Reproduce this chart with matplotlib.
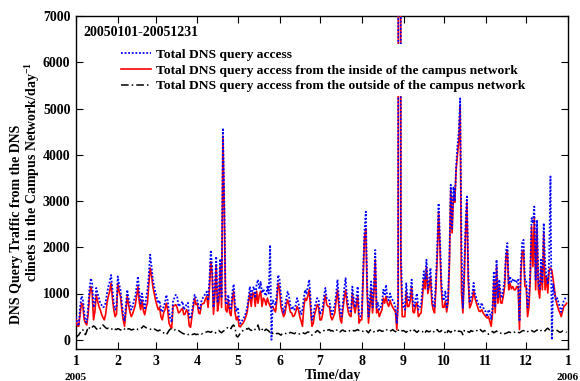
import numpy as np
import matplotlib
matplotlib.use("Agg")
import matplotlib.pyplot as plt

plt.rcParams['font.family'] = ['Liberation Serif', 'DejaVu Serif']
plt.rcParams['font.weight'] = 'bold'
plt.rcParams['mathtext.fontset'] = 'custom'
plt.rcParams['mathtext.rm'] = 'Liberation Serif:bold'
plt.rcParams['mathtext.bf'] = 'Liberation Serif:bold'
plt.rcParams['mathtext.it'] = 'Liberation Serif:bold:italic'

# ---------------- data (daily, 2005-01-01 .. 2005-12-31) ----------------
total_access = [
    # Jan
    500, 350, 300, 700, 940, 900, 600, 400, 380, 700, 1100, 1330, 1220, 700, 800, 1120, 1000, 900, 790, 750,
    700, 720, 800, 1000, 1150, 1250, 1400, 1100, 790, 650, 700,
    # Feb
    1370, 1200, 1080, 800, 550, 400, 750, 1080, 900, 780, 650, 720, 850, 940, 1150, 1370, 1000, 780, 1000, 800,
    650, 900, 1080, 1400, 1840, 1600, 1300, 1150,
    # Mar
    1010, 900, 790, 850, 650, 600, 720, 800, 970, 850, 600, 450, 380, 860, 900, 970, 950, 720, 750, 780,
    830, 650, 700, 760, 800, 500, 450, 600, 800, 970, 900,
    # Apr
    850, 700, 650, 830, 900, 940, 1000, 1040, 850, 1300, 1940, 1580, 700, 1100, 1800, 800, 1000, 1750, 900, 4580,
    3000, 800, 760, 970, 700, 650, 1040, 1200, 750, 610,
    # May
    700, 450, 350, 400, 450, 500, 580, 700, 900, 1150, 900, 1100, 1150, 900, 1200, 1300, 1100, 1250, 1010, 1100,
    1000, 950, 1150, 1000, 2050, 0, 850, 800, 750, 1000, 1400,
    # Jun
    1300, 1000, 750, 580, 700, 900, 1040, 950, 750, 650, 700, 650, 750, 900, 800, 650, 550, 650, 900, 1080,
    1000, 1150, 1300, 900, 430, 500, 700, 800, 900, 850,
    # Jul
    550, 600, 700, 950, 1120, 900, 860, 850, 650, 550, 650, 750, 1000, 1300, 900, 600, 500, 800, 1100, 1330,
    950, 750, 650, 580, 1150, 900, 700, 900, 1150, 550, 500,
    # Aug
    600, 1500, 2340, 2770, 1200, 500, 900, 1260, 700, 1200, 1940, 700, 800, 650, 700, 800, 1080, 950, 1190, 900,
    850, 1000, 900, 850, 800, 700, 350, 900, 60000, 1940, 900,
    # Sep
    700, 650, 1220, 900, 850, 1000, 1300, 800, 700, 900, 1000, 650, 700, 750, 1100, 1480, 1300, 1730, 1100, 1300,
    1550, 1000, 750, 700, 1300, 2000, 2950, 2200, 1300, 900,
    # Oct
    850, 1060, 700, 900, 1800, 3350, 2400, 3310, 3000, 3740, 4200, 4500, 5220, 2010, 690, 1500, 2500, 3130, 1500, 800,
    900, 1000, 1230, 1000, 900, 800, 750, 700, 800, 700, 650,
    # Nov
    600, 500, 650, 600, 450, 700, 1480, 700, 1730, 900, 1300, 1000, 900, 1100, 1300, 1900, 2090, 1200, 1370, 1250,
    1300, 1250, 1300, 1250, 1300, 400, 1600, 2090, 2160, 1300,
    # Dec
    1300, 700, 900, 1500, 2630, 2520, 2880, 1300, 2590, 1200, 1100, 1730, 1250, 2520, 1660, 1370, 1200, 1700, 3530, 0,
    1200, 1000, 850, 900, 800, 700, 600, 750, 860, 900, 940,
]

inside_access = [
    # Jan
    430, 300, 290, 550, 790, 760, 450, 360, 320, 550, 950, 1150, 1010, 430, 600, 970, 850, 720, 650, 550,
    480, 430, 550, 800, 940, 1050, 1220, 900, 650, 500, 550,
    # Feb
    1220, 1050, 940, 650, 430, 290, 600, 940, 760, 600, 500, 560, 650, 750, 950, 1150, 800, 650, 860, 620,
    540, 700, 790, 1200, 1550, 1400, 1150, 1000,
    # Mar
    860, 750, 650, 700, 500, 430, 580, 650, 790, 650, 360, 290, 250, 720, 740, 760, 700, 580, 600, 650,
    680, 540, 560, 650, 600, 300, 270, 500, 700, 900, 760,
    # Apr
    790, 580, 560, 760, 780, 790, 880, 940, 700, 1100, 1690, 1440, 550, 950, 1620, 620, 800, 1600, 700, 4400,
    2800, 650, 600, 860, 580, 520, 900, 1050, 580, 430,
    # May
    500, 290, 280, 330, 360, 420, 500, 600, 830, 1000, 720, 1010, 1000, 720, 1050, 790, 970, 1050, 720, 900,
    860, 750, 900, 800, 720, 700, 720, 650, 600, 850, 1220,
    # Jun
    1100, 720, 600, 500, 560, 750, 860, 760, 600, 580, 500, 520, 600, 720, 650, 500, 400, 290, 700, 900,
    850, 950, 1080, 700, 290, 350, 550, 650, 760, 700,
    # Jul
    430, 430, 550, 800, 970, 760, 720, 720, 500, 430, 500, 580, 850, 1080, 720, 450, 360, 650, 900, 1080,
    790, 600, 520, 500, 1010, 750, 580, 750, 940, 360, 430,
    # Aug
    430, 1300, 2200, 2400, 1010, 360, 700, 1080, 580, 1000, 1730, 580, 650, 500, 580, 650, 900, 790, 940, 790,
    720, 850, 760, 700, 650, 600, 220, 800, 58000, 1650, 500,
    # Sep
    500, 500, 1040, 720, 720, 850, 1150, 600, 580, 750, 800, 500, 550, 580, 900, 1300, 1100, 1580, 1000, 1150,
    1370, 800, 650, 580, 1100, 1800, 2770, 2000, 1100, 700,
    # Oct
    700, 830, 600, 800, 1600, 3240, 2310, 3100, 2970, 3670, 4000, 4300, 5040, 1010, 580, 1300, 2300, 2970, 1300, 690,
    750, 850, 1070, 900, 800, 700, 620, 610, 650, 580, 540,
    # Nov
    500, 470, 500, 400, 290, 550, 1260, 580, 1580, 790, 1150, 800, 790, 940, 1150, 1800, 1940, 1080, 1220, 1100,
    1150, 1080, 1080, 1150, 1150, 220, 1400, 1900, 1940, 1150,
    # Dec
    1150, 500, 700, 1300, 2450, 1580, 2660, 1080, 2380, 1080, 900, 1580, 1080, 2300, 1080, 1370, 1010, 1500, 1550, 1500,
    1300, 1080, 860, 750, 650, 580, 500, 620, 720, 750, 790,
]

outside_access = [
    # Jan
    40, 80, 100, 150, 200, 220, 150, 110, 180, 280, 250, 230, 270, 300, 280, 240, 220, 210, 250, 280,
    320, 290, 260, 240, 250, 230, 220, 240, 260, 230, 220,
    # Feb
    240, 230, 210, 220, 250, 230, 200, 220, 240, 230, 210, 220, 230, 250, 240, 220, 230, 250, 260, 300,
    280, 260, 250, 240, 230, 220, 210, 230,
    # Mar
    220, 200, 190, 210, 200, 180, 150, 120, 110, 150, 200, 230, 240, 220, 210, 230, 220, 200, 180, 160,
    140, 130, 110, 100, 110, 120, 100, 110, 120, 130, 110,
    # Apr
    120, 110, 130, 120, 140, 150, 160, 170, 180, 170, 160, 180, 150, 140, 160, 180, 200, 170, 150, 180,
    200, 220, 250, 280, 260, 240, 300, 320, 250, 80,
    # May
    60, 100, 150, 180, 200, 220, 240, 230, 250, 220, 200, 210, 190, 230, 250, 320, 220, 180, 220, 250,
    200, 230, 210, 190, 150, 120, 140, 160, 150, 130, 140,
    # Jun
    120, 100, 130, 150, 140, 130, 120, 140, 160, 150, 140, 130, 150, 140, 120, 130, 150, 160, 140, 130,
    150, 170, 160, 120, 100, 130, 150, 170, 200, 180,
    # Jul
    150, 170, 190, 200, 180, 200, 210, 220, 190, 200, 180, 170, 200, 220, 190, 170, 200, 210, 190, 180,
    200, 210, 190, 170, 180, 200, 190, 210, 220, 200, 210,
    # Aug
    200, 180, 190, 210, 180, 150, 200, 220, 190, 170, 200, 180, 190, 210, 200, 180, 190, 210, 230, 200,
    180, 190, 200, 220, 190, 180, 150, 200, 230, 210, 190,
    # Sep
    200, 180, 160, 190, 220, 200, 170, 190, 210, 180, 160, 190, 200, 180, 170, 190, 150, 200, 180, 170,
    190, 210, 180, 160, 190, 220, 180, 170, 200, 180,
    # Oct
    190, 150, 120, 200, 180, 160, 190, 170, 200, 180, 160, 190, 180, 170, 110, 200, 180, 190, 170, 160,
    200, 180, 190, 200, 210, 180, 200, 220, 190, 170, 200,
    # Nov
    180, 150, 120, 140, 160, 180, 150, 170, 190, 160, 150, 140, 160, 150, 130, 140, 150, 170, 160, 150,
    140, 160, 170, 180, 160, 150, 170, 190, 200, 180,
    # Dec
    160, 180, 170, 190, 200, 180, 170, 190, 210, 200, 180, 200, 220, 210, 190, 230, 250, 220, 200, 180,
    200, 190, 210, 200, 180, 160, 170, 190, 180, 170, 160,
]

month_starts = [0, 31, 59, 90, 120, 151, 181, 212, 243, 273, 304, 334, 365]
month_labels = ['1', '2', '3', '4', '5', '6', '7', '8', '9', '10', '11', '12', '1']
y_ticks = [0, 1000, 2000, 3000, 4000, 5000, 6000, 7000]

series_labels = ['Total DNS query access',
                 'Total DNS query access from the inside of the campus network',
                 'Total DNS query access from the outside of the campus network']

days = np.arange(len(total_access))

# ---------------- figure ----------------
fig = plt.figure(figsize=(5.8, 3.81), dpi=100)
ax = fig.add_axes([76/580, 1-349/381, (568-76)/580, (349-16)/381])

l_in, = ax.plot(days, inside_access, color='#ff0000', lw=1.2, zorder=3)
l_tot, = ax.plot(days, total_access, color='#0000ff', lw=1.3, ls=(0, (1, 1)), zorder=4)
l_out, = ax.plot(days, outside_access, color='black', lw=1.1, ls=(0, (5, 2, 1, 2)), zorder=5)

ax.set_xlim(0, 365)
ax.set_ylim(-200, 7000)
ax.set_xticks(month_starts)
ax.set_xticklabels(month_labels)
ax.set_yticks(y_ticks)
ax.tick_params(direction='in', top=True, right=True, length=5, width=0.8,
               labelsize=10, pad=4)
for lab in ax.get_xticklabels() + ax.get_yticklabels():
    lab.set_fontweight('bold')
for sp in ax.spines.values():
    sp.set_linewidth(1.0)

leg = ax.legend([l_tot, l_in, l_out], series_labels, loc='upper left',
                bbox_to_anchor=(0.07, 0.935), frameon=True, framealpha=1.0,
                facecolor='white', edgecolor='none', fancybox=False,
                prop={'weight': 'bold', 'size': 9.7}, handlelength=2.2,
                handletextpad=0.4, labelspacing=0.25, borderpad=0.3)
leg.set_zorder(10)

ax.text(0.014, 0.95, '20050101-20051231', transform=ax.transAxes,
        fontsize=10, fontweight='bold', va='center', ha='left')

trans = ax.get_xaxis_transform()
ax.text(0, -0.085, '2005', transform=trans, ha='center', va='center', fontsize=8, fontweight='bold')
ax.text(365, -0.085, '2006', transform=trans, ha='center', va='center', fontsize=8, fontweight='bold')

fig.text(333/580, 1-375/381, 'Time/day', ha='center', va='center', fontsize=10, fontweight='bold')

fig.text(17/580, 1-224/381, 'DNS Query Traffic from the DNS', rotation=90,
         ha='center', va='center', fontsize=10, fontweight='bold')
fig.text(33/580, 1-172/381, 'clinets in the Campus Network/day$^{-1}$', rotation=90,
         ha='center', va='center', fontsize=10, fontweight='bold')

fig.savefig('out.png', dpi=100)
